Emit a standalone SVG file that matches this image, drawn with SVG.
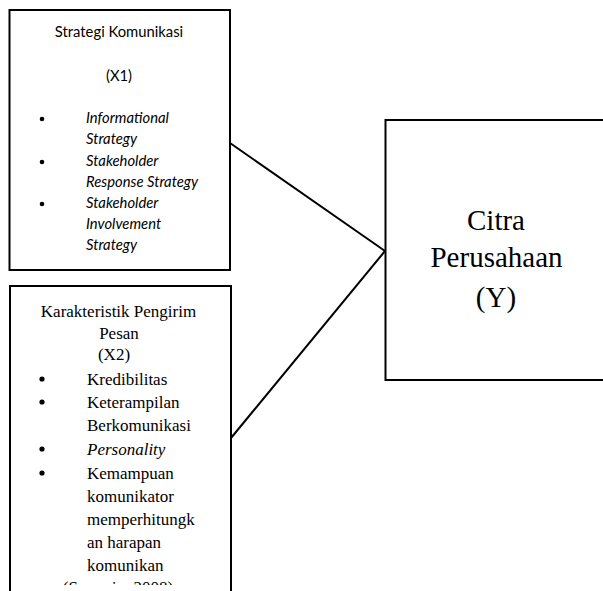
<svg xmlns="http://www.w3.org/2000/svg" width="603" height="591" viewBox="0 0 603 591">
<style>
.box{fill:#fff;stroke:#000;stroke-width:2}
.edge{stroke:#000;stroke-width:2;fill:none}
.cal{font-family:Lato,"Open Sans",sans-serif;font-size:14.8px;fill:#000}
.it{font-style:italic}
.tnr{font-family:'Liberation Serif','Tinos','DejaVu Serif',serif;font-size:17px;fill:#000}
.big{font-family:'Liberation Serif','Tinos','DejaVu Serif',serif;font-size:29px;fill:#000}
</style>
<defs>
<clipPath id="clipX2"><rect x="0" y="0" width="603" height="585"/></clipPath>
</defs>
<g id="connectors">
<line class="edge" x1="230" y1="143" x2="385" y2="251"/>
<line class="edge" x1="231" y1="438" x2="385" y2="251"/>
</g>
<g id="x1">
<rect class="box" x="9.5" y="10" width="220.5" height="260"/>
<text class="cal" x="119" y="37" text-anchor="middle">Strategi Komunikasi</text>
<text class="cal" x="119" y="81" text-anchor="middle">(X1)</text>
<circle cx="42" cy="119" r="2.3"/>
<text class="cal it" x="86" y="123">Informational</text>
<text class="cal it" x="86" y="144">Strategy</text>
<circle cx="42" cy="162" r="2.3"/>
<text class="cal it" x="86" y="166">Stakeholder</text>
<text class="cal it" x="86" y="187">Response Strategy</text>
<circle cx="42" cy="204" r="2.3"/>
<text class="cal it" x="86" y="208">Stakeholder</text>
<text class="cal it" x="86" y="229">Involvement</text>
<text class="cal it" x="86" y="250">Strategy</text>
</g>
<g id="x2">
<rect class="box" x="10" y="286" width="221" height="320"/>
<g clip-path="url(#clipX2)">
<text class="tnr" x="118.5" y="317" text-anchor="middle">Karakteristik Pengirim</text>
<text class="tnr" x="119" y="339" text-anchor="middle">Pesan</text>
<text class="tnr" x="114" y="360" text-anchor="middle">(X2)</text>
<circle cx="42" cy="379" r="2.6"/>
<text class="tnr" x="87" y="385">Kredibilitas</text>
<circle cx="42" cy="402" r="2.6"/>
<text class="tnr" x="87" y="408">Keterampilan</text>
<text class="tnr" x="87" y="431">Berkomunikasi</text>
<circle cx="42" cy="449" r="2.6"/>
<text class="tnr it" x="87" y="455">Personality</text>
<circle cx="42" cy="473" r="2.6"/>
<text class="tnr" x="87" y="479">Kemampuan</text>
<text class="tnr" x="87" y="502">komunikator</text>
<text class="tnr" x="87" y="525">memperhitungk</text>
<text class="tnr" x="87" y="548">an harapan</text>
<text class="tnr" x="87" y="571">komunikan</text>
<text class="tnr" x="118" y="593" text-anchor="middle">(Suwarjo, 2008)</text>
</g>
</g>
<g id="y">
<rect class="box" x="385.5" y="120" width="230" height="260"/>
<text class="big" x="496" y="230" text-anchor="middle">Citra</text>
<text class="big" x="496.5" y="267" text-anchor="middle">Perusahaan</text>
<text class="big" x="496" y="307" text-anchor="middle">(Y)</text>
</g>
</svg>
